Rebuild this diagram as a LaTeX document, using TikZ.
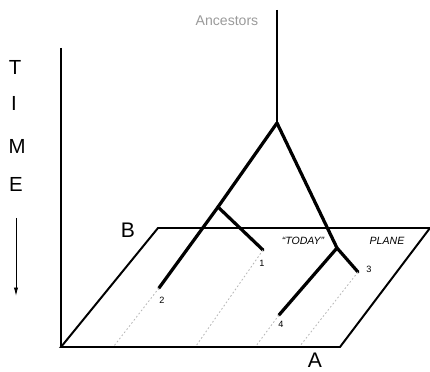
\documentclass[tikz,border=0pt]{standalone}
\usepackage{fontspec}
\setmainfont{Liberation Sans}
\usepackage{xcolor}
\definecolor{tdInk}{HTML}{000000}
\definecolor{tdFaint}{HTML}{B8B8B8}
\definecolor{tdGray}{HTML}{9A9A9A}
\usetikzlibrary{arrows.meta}

\begin{document}
\begin{tikzpicture}[
    x=0.025cm, y=-0.025cm,
    branch/.style={tdInk, line width=2.3pt, line cap=round},
    stem/.style={tdInk, line width=1.6pt},
    plane/.style={tdInk, line width=1.4pt, line join=miter},
    axis/.style={tdInk, line width=0.9pt},
    trace/.style={tdFaint, line width=0.6pt, dash pattern=on 1.2pt off 1.6pt},
    tip/.style={font=\fontsize{6.5}{7}\selectfont, inner sep=0pt},
    word/.style={font=\fontsize{14.5}{15}\selectfont, inner sep=0pt},
    corner/.style={font=\fontsize{15}{16}\selectfont, inner sep=0pt},
    plabel/.style={font=\itshape\fontsize{7.5}{8}\selectfont, inner sep=0pt}
  ]
    \useasboundingbox (0,0) rectangle (430,372);
    % time axis and today plane
    \draw[axis] (61,48) -- (61,347);
    \draw[plane] (61,347) -- (340,347) -- (430,228) -- (158,228) -- cycle;
    \node[corner] (labB) at (128,230) {B};
    \node[corner] (labA) at (315,360) {A};
    \node[plabel] (today) at (303,241) {``TODAY''};
    \node[plabel] (plname) at (387,241) {PLANE};
    % time label
    \node[word] (tT) at (15,67) {T};
    \node[word] (tI) at (14,103) {I};
    \node[word] (tM) at (17,146) {M};
    \node[word] (tE) at (16,184) {E};
    \coordinate (arrtop) at (16,218);
    \coordinate (arrbot) at (16,296);
    \draw[axis, line width=0.6pt, -{Latex[length=6pt,width=3pt]}] (arrtop) -- (arrbot);
    % tree
    \node[font=\fontsize{10}{11}\selectfont, text=tdGray, inner sep=0pt] (anc) at (227,21) {Ancestors};
    \coordinate (top) at (277,10);
    \coordinate (root) at (277,123);
    \coordinate (left) at (218,207);
    \coordinate (right) at (337,248);
    \coordinate (end2) at (159,288);
    \coordinate (end1) at (263,250);
    \coordinate (end3) at (358,272);
    \coordinate (end4) at (279,315);
    \draw[stem] (top) -- (root);
    \draw[branch] (root) -- (left);
    \draw[branch] (root) -- (right);
    \draw[branch] (left) -- (end2);
    \draw[branch] (left) -- (end1);
    \draw[branch] (right) -- (end3);
    \draw[branch] (right) -- (end4);
    % traces down to A
    \draw[trace] (end2) -- (114,346);
    \draw[trace] (end1) -- (196,346);
    \draw[trace] (end4) -- (256,346);
    \draw[trace] (end3) -- (300,346);
    \node[tip] (tip2) at (162,300) {2};
    \node[tip] (tip1) at (262,263) {1};
    \node[tip] (tip3) at (369,269) {3};
    \node[tip] (tip4) at (281,324) {4};
  \end{tikzpicture}
\end{document}
